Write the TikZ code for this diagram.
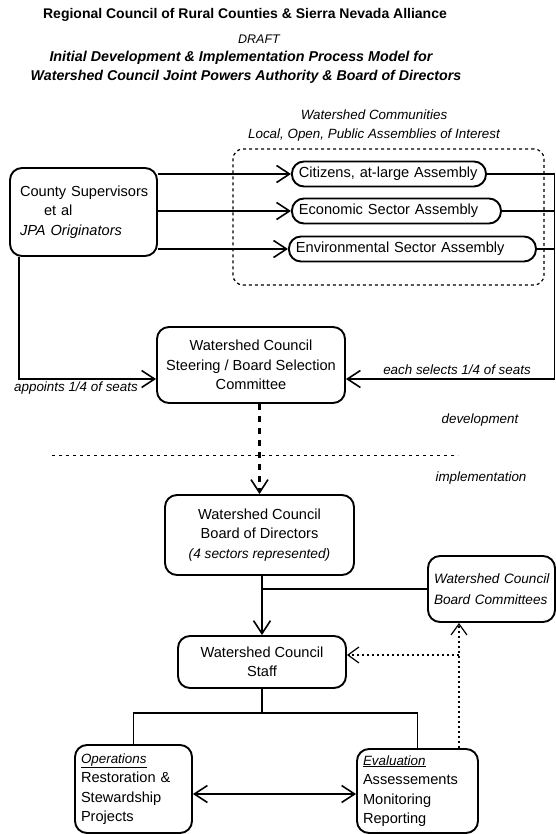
\documentclass[tikz,border=0pt]{standalone}
\usepackage{fontspec}
\setmainfont{Liberation Sans}
\usetikzlibrary{arrows.meta,calc}
\begin{document}
\begin{tikzpicture}[x=1pt,y=-1pt,
  every node/.style={inner sep=0pt},
  ftext/.style={font=\fontsize{14.6}{19.5}\selectfont},
  lbl/.style={font=\fontsize{13.4}{16}\selectfont\itshape},
  box/.style={draw, line width=1.9pt, rounded corners=12pt, align=center, ftext},
  asm/.style={draw, line width=1.9pt, rounded corners=12pt, minimum height=25pt, inner xsep=7pt, align=left, anchor=west, ftext},
  ln/.style={line width=1.9pt},
  tip/.style={-{Straight Barb[length=13pt,width=17pt,line width=1.6pt]}},
  arr/.style={ln, tip},
  dblarr/.style={ln, {Straight Barb[length=13pt,width=17pt,line width=1.6pt]}-{Straight Barb[length=13pt,width=17pt,line width=1.6pt]}},
  thickdash/.style={line width=2.8pt, dash pattern=on 6pt off 6pt, tip},
  dotline/.style={line width=1.2pt, dash pattern=on 2pt off 3pt},
  dotarr/.style={dotline, -{Straight Barb[length=11pt,width=16pt,line width=1.2pt]}},
  sepline/.style={line width=1pt, dash pattern=on 3pt off 4pt}
]
\useasboundingbox (0,0) rectangle (556,834);

% titles
\node[font=\fontsize{14}{16}\selectfont\bfseries] (t1) at (245,15) {Regional Council of Rural Counties \& Sierra Nevada Alliance};
\node[font=\fontsize{12.5}{14}\selectfont\itshape] (t2) at (259,39) {DRAFT};
\node[font=\fontsize{14.3}{16}\selectfont\bfseries\itshape] (t3) at (241,58) {Initial Development \& Implementation Process Model for};
\node[font=\fontsize{14.2}{16}\selectfont\bfseries\itshape] (t4) at (246,77) {Watershed Council Joint Powers Authority \& Board of Directors};

% community group
\node[lbl] (wc) at (374,115) {Watershed Communities};
\node[lbl] (loc) at (374,135) {Local, Open, Public Assemblies of Interest};
\node[draw, line width=1.2pt, dash pattern=on 3pt off 3pt, rounded corners=10pt,
      minimum width=311pt, minimum height=136pt] (comm) at (388.5,217) {};

\node[asm, text width=180pt] (cit) at (291,174) {\mbox{Citizens, at-large Assembly}};
\node[asm, text width=195pt] (eco) at (291,211) {\mbox{Economic Sector Assembly}};
\node[asm, text width=233pt] (env) at (288,249) {\mbox{Environmental Sector Assembly}};

% county supervisors
\node[box, align=left, text width=127pt, inner xsep=10pt, minimum height=88pt] (cty) at (83.5,212)
  {\mbox{County Supervisors}\\\hspace*{24pt}et al\\\textit{\mbox{JPA Originators}}};

\draw[arr] (cty.east |- cit.west) -- (cit.west);
\draw[arr] (cty.east |- eco.west) -- (eco.west);
\draw[arr] (cty.east |- env.west) -- (env.west);

% steering committee
\node[box, minimum width=188pt, minimum height=76pt] (steer) at (251,365)
  {Watershed Council\\Steering / Board Selection\\Committee};

\coordinate (rx) at (554.5,379);
\coordinate (lx) at (19,379);
\draw[ln] (cit.east) -- (cit.east -| rx);
\draw[ln] (eco.east) -- (eco.east -| rx);
\draw[ln] (env.east) -- (env.east -| rx);
\draw[arr] (cit.east -| rx) -- (rx) -- (rx -| steer.east);
\draw[arr] (lx |- cty.south) -- (lx) -- (lx -| steer.west);

\node[lbl] (apt) at (76,388) {appoints 1/4 of seats};
\node[lbl] (sel) at (457,370) {each selects 1/4 of seats};

% development / implementation
\coordinate (d1) at (52,455);
\coordinate (d2) at (458,455);
\draw[sepline] (d1) -- (d2);
\node[lbl] (dev) at (480,420) {development};
\node[lbl] (imp) at (481,478) {implementation};

% board of directors
\node[box, minimum width=189pt, minimum height=80pt] (board) at (259.5,535)
  {Watershed Council\\Board of Directors\\{\fontsize{13.7}{19.5}\selectfont\itshape (4 sectors represented)}};
\draw[thickdash] (board.north |- steer.south) -- (board.north);

% board committees
\node[box, align=left, text width=115pt, inner xsep=6pt, minimum height=66pt, font=\fontsize{13.6}{21}\selectfont\itshape] (bc) at (491.5,589)
  {\mbox{Watershed Council}\\\mbox{Board Committees}};

% staff
\node[box, minimum width=168pt, minimum height=52pt] (staff) at (262,662)
  {Watershed Council\\Staff};
\draw[arr] (board.south -| staff.north) -- (staff.north);
\draw[ln] (bc.west -| staff.north) -- (bc.west);

% operations / evaluation
\node[box, align=left, text width=105pt, inner xsep=6pt, minimum height=88pt] (ops) at (133.5,789)
  {{\fontsize{13.4}{19.5}\selectfont\itshape\underline{Operations}}\\\mbox{Restoration \&}\\Stewardship\\Projects};
\node[box, align=left, text width=109pt, inner xsep=6pt, minimum height=84pt] (eval) at (417.5,791)
  {{\fontsize{13.4}{19.5}\selectfont\itshape\underline{Evaluation}}\\Assessements\\Monitoring\\Reporting};

\coordinate (jn) at (262,713);
\draw[ln] (staff.south) -- (jn);
\draw[ln] (ops.north) |- (jn) -| (eval.north);
\draw[dblarr] ([yshift=-5pt]ops.east) -- ([yshift=-5pt]ops.east -| eval.west);

% dotted feedback
\coordinate (dp) at (459,655);
\draw[dotarr] (dp |- eval.north) -- (dp |- bc.south);
\draw[dotarr] (dp) -- (dp -| staff.east);
\end{tikzpicture}
\end{document}
